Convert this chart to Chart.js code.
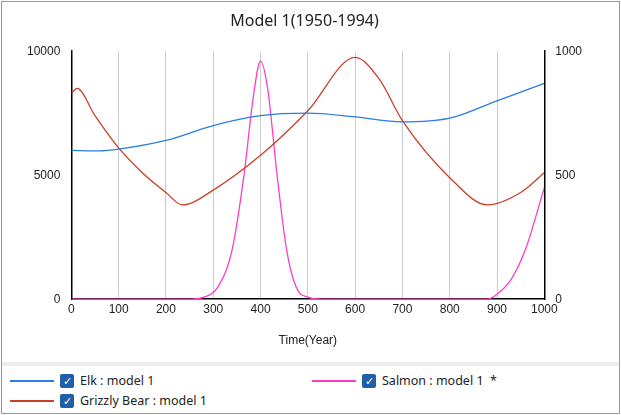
<!DOCTYPE html>
<html><head><meta charset="utf-8">
<script src="https://cdn.jsdelivr.net/npm/chart.js@4"></script>
<style>
body{margin:0;background:#fff;font-family:"Noto Sans","Open Sans",sans-serif;}
#wrap{position:absolute;left:1px;top:1px;width:617px;height:411px;border:1px solid #999;}
#cv{position:absolute;left:0;top:0;}
#leg{position:absolute;left:0;top:360px;width:617px;height:51px;border-top:4px solid #eee;font-size:12.5px;color:#222;}
.it{position:absolute;display:flex;align-items:center;}
.ln{width:44px;height:2px;margin-right:6px;}
.cb{width:14px;height:14px;background:#1f5fa8;border-radius:2px;color:#fff;font-size:11px;line-height:14px;text-align:center;margin-right:6px;}
</style></head><body>
<div id="wrap"><canvas id="cv" width="617" height="356"></canvas>
<div id="leg">
<div class="it" style="left:8px;top:6px"><div class="ln" style="background:#2a7de1"></div><div class="cb">✓</div>Elk : model 1</div>
<div class="it" style="left:8px;top:26px"><div class="ln" style="background:#c8412a"></div><div class="cb">✓</div>Grizzly Bear : model 1</div>
<div class="it" style="left:310px;top:6px"><div class="ln" style="background:#ff3cc8"></div><div class="cb">✓</div>Salmon : model 1 &nbsp;*</div>
</div></div>
<script>
const elkX=[0,60,100,200,300,400,500,600,700,800,900,1000];
const elkY=[6000,5980,6050,6400,7000,7400,7500,7350,7150,7300,8000,8700];
const bearX=[0,12,50,100,150,200,235,300,400,500,600,650,700,800,880,950,1000];
const bearY=[8300,8500,7400,6100,5100,4300,3800,4400,5800,7600,9750,8900,7200,4900,3800,4300,5100];
const salX=[0,250,280,310,340,365,385,400,415,435,455,475,500,530,880,900,930,960,1000];
const salY=[0,0,8,50,200,500,820,960,850,500,200,50,8,0,0,20,80,200,450];
const pts=(xs,ys)=>xs.map((x,i)=>({x,y:ys[i]}));
const plain=v=>String(v);
new Chart(document.getElementById('cv'),{type:'line',data:{datasets:[
{data:pts(elkX,elkY),borderColor:'#2a7de1',yAxisID:'y',cubicInterpolationMode:'monotone'},
{data:pts(bearX,bearY),borderColor:'#c8412a',yAxisID:'y',cubicInterpolationMode:'monotone'},
{data:pts(salX,salY),borderColor:'#ff3cc8',yAxisID:'y1',cubicInterpolationMode:'monotone'}]},
options:{animation:false,responsive:false,devicePixelRatio:1,
elements:{point:{radius:0},line:{borderWidth:1.3}},
layout:{padding:{left:22,right:34,top:0,bottom:6}},
plugins:{legend:{display:false},tooltip:{enabled:false},
title:{display:true,text:'Model 1(1950-1994)',font:{size:16,family:'Noto Sans',weight:'normal'},color:'#222',padding:{top:10,bottom:20}}},
scales:{x:{type:'linear',min:0,max:1000,ticks:{stepSize:100,color:'#222',font:{size:12},callback:plain},grid:{color:'#ccc',drawTicks:false},border:{color:'#000',width:1.5},
title:{display:true,text:'Time(Year)',color:'#222',font:{size:12},padding:{top:14}}},
y:{min:0,max:10000,ticks:{stepSize:5000,color:'#222',font:{size:12},callback:plain},grid:{display:false},border:{color:'#000',width:1.5}},
y1:{position:'right',min:0,max:1000,ticks:{stepSize:500,color:'#222',font:{size:12},callback:plain},grid:{display:false},border:{color:'#000',width:1.5}}}}});
</script></body></html>
